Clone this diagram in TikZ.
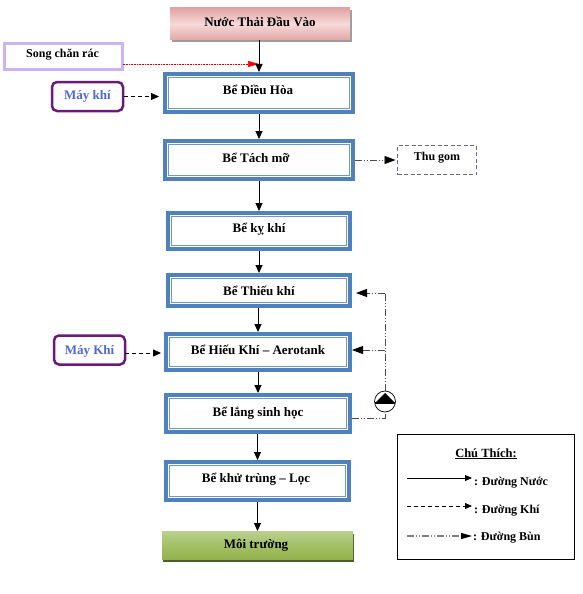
\documentclass[tikz,border=0pt]{standalone}
\usepackage{fontspec}
\setmainfont{Liberation Serif}
\usetikzlibrary{arrows.meta,shadows,calc}
\definecolor{tankblue}{HTML}{4F81BD}
\definecolor{tankpale}{HTML}{6F97C8}
\definecolor{lilac}{HTML}{CCB3F5}
\definecolor{plum}{HTML}{6A1B7A}
\definecolor{airblue}{HTML}{4F68D8}
\definecolor{dashgray}{HTML}{6F6485}
\definecolor{rosetop}{HTML}{E3A3A3}
\definecolor{rosemid}{HTML}{F6DADA}
\definecolor{rosebot}{HTML}{E2A6A6}
\definecolor{greentop}{HTML}{B9D190}
\definecolor{greenmid}{HTML}{A3C165}
\definecolor{greenbot}{HTML}{94B24F}
\definecolor{greendark}{HTML}{4C5C2C}
\newcommand{\tl}[2]{\smash{\raisebox{#1}{#2}}}
\newcommand{\smalltxt}{\fontsize{12}{13}\selectfont}
\tikzset{
  x=1pt,y=-1pt,
  every node/.style={font=\bfseries\fontsize{13}{14}\selectfont,inner sep=0pt,outer sep=0pt},
  tank/.style={fill=tankblue,
    path picture={
      \fill[white] ([shift={(4pt,4pt)}]path picture bounding box.south west) rectangle ([shift={(-4pt,-4pt)}]path picture bounding box.north east);
      \draw[tankpale,line width=1pt] ([shift={(5.6pt,5.6pt)}]path picture bounding box.south west) rectangle ([shift={(-5.6pt,-5.6pt)}]path picture bounding box.north east);
    }},
  air/.style={draw=plum,line width=2.5pt,rounded corners=5pt,fill=white,text=airblue},
  water/.style={line width=0.9pt,-{Triangle[length=8pt,width=7pt]}},
  gas/.style={line width=0.8pt,dash pattern=on 4pt off 3pt,-{Triangle[length=8pt,width=7pt]}},
  sludge/.style={line width=0.9pt,draw=black!70,dash pattern=on 7pt off 2pt on 1pt off 2pt on 1pt off 2pt},
  sludgetip/.style={sludge,-{Triangle[length=11pt,width=8pt,black]}},
}
\begin{document}
\begin{tikzpicture}
\useasboundingbox (0,0) rectangle (583,594);
\fill[white] (0,0) rectangle (583,594);
% nodes
\node[minimum width=180pt,minimum height=32pt,top color=rosetop,bottom color=rosebot,middle color=rosemid,drop shadow={shadow xshift=1.5pt,shadow yshift=-2.5pt,opacity=.7,fill=black!55}] (input) at (260,24) {\tl{-2pt}{Nước Thải Đầu Vào}};
\node[draw=lilac,line width=3pt,minimum width=118pt,minimum height=26pt,fill=white] (song) at (63.5,56.5) {\tl{-1.5pt}{\smalltxt\kern-2pt Song chăn rác}};
\node[air,minimum width=71pt,minimum height=29pt] (may1) at (87.5,96.5) {\tl{-3pt}{Máy khí}};
\node[tank,minimum width=192pt,minimum height=42pt] (dieuhoa) at (259,93) {\tl{-1pt}{\kern-2pt Bể Điều Hòa}};
\node[tank,minimum width=192pt,minimum height=42pt] (tachmo) at (259,160) {\tl{-2pt}{\kern-6pt Bể Tách mỡ}};
\node[draw=dashgray,line width=0.8pt,dash pattern=on 4pt off 2.5pt,minimum width=79pt,minimum height=29pt] (thugom) at (437,160) {\tl{0pt}{\smalltxt Thu gom}};
\node[tank,minimum width=186pt,minimum height=40pt] (kykhi) at (259,231) {\tl{-1pt}{Bể kỵ khí}};
\node[tank,minimum width=186pt,minimum height=35pt] (thieukhi) at (259,290.5) {\tl{-5pt}{Bể Thiếu khí}};
\node[tank,minimum width=188pt,minimum height=40pt] (hieukhi) at (258,352) {\tl{-2pt}{Bể Hiếu Khí – Aerotank}};
\node[air,minimum width=71pt,minimum height=29pt] (may2) at (89.5,350) {\tl{-4pt}{Máy Khí}};
\node[tank,minimum width=188pt,minimum height=41pt] (lang) at (258,413.5) {\tl{-3pt}{Bể lắng sinh học}};
\node[tank,minimum width=187pt,minimum height=42pt] (khutrung) at (257.5,481) {\tl{-1pt}{\kern-3pt Bể khử trùng – Lọc}};
\node[minimum width=191pt,minimum height=28pt,top color=greentop,bottom color=greenbot,middle color=greenmid,drop shadow={shadow xshift=1pt,shadow yshift=-2.5pt,opacity=1,fill=greendark}] (moi) at (257.5,545) {\tl{-3pt}{\kern-3pt Môi trường}};
% junctions
\coordinate (j1) at (259,64);
\coordinate (ret) at (385,418);
\coordinate (retb) at (385,350);
\coordinate (rett) at (385,293);
\node[circle,draw=black,line width=0.7pt,fill=white,minimum size=21pt] (pump) at (385,401.5) {};
% red
\draw[red!85!black,line width=0.6pt,densely dotted,-{Triangle[length=11pt,width=6pt,red]}] (song.east |- j1) -- (j1);
% main line
\draw[water] (input.south -| dieuhoa) -- (dieuhoa.north);
\draw[water] (dieuhoa.south) -- (tachmo.north);
\draw[water] (tachmo.south) -- (kykhi.north);
\draw[water] (kykhi.south) -- (kykhi.south |- thieukhi.north);
\draw[water] (thieukhi.south -| hieukhi) -- (hieukhi.north);
\draw[water] (hieukhi.south) -- (lang.north);
\draw[water] (lang.south -| khutrung) -- (khutrung.north);
\draw[water] (khutrung.south -| moi) -- (moi.north);
% air
\draw[gas] (may1.east) ++(1,0) -- ++(35,0);
\draw[gas,shorten >=3pt] (may2.east |- 0,353) -- (hieukhi.west |- 0,353);
% sludge
\draw[sludgetip,shorten >=2pt] (tachmo.east) -- (thugom.west);
\draw[sludge] (lang.east |- ret) -- (ret) -- (pump.south);
\draw[sludge] (pump.north) -- (rett);
\draw[sludgetip,shorten >=4pt] (rett) -- (thieukhi.east |- rett);
\draw[sludgetip] (retb) -- (hieukhi.east |- retb);
% pump detail
\fill[black] (375,403) -- (385,393) -- (395,403) -- cycle;
\draw[black,line width=1.2pt] (375,403) -- (395,403);
% legend
\node[draw=black,line width=0.9pt,minimum width=177pt,minimum height=125pt] (legend) at (485.5,496.5) {};
\node[anchor=base,font=\bfseries\fontsize{12.5}{14}\selectfont] (legtitle) at (486,457) {\underline{Chú Thích:}};
\coordinate (a1) at (407,478); \coordinate (b1) at (472,478);
\coordinate (a2) at (407,506); \coordinate (b2) at (472,506);
\coordinate (a3) at (407,536); \coordinate (b3) at (472,536);
\draw[line width=0.9pt,-{Triangle[length=7pt,width=6pt]}] (a1) -- (b1);
\draw[line width=0.8pt,dash pattern=on 4pt off 3pt,-{Triangle[length=7pt,width=6pt]}] (a2) -- (b2);
\draw[line width=1.1pt,draw=black!50,dash pattern=on 7pt off 2pt on 1pt off 2pt on 1pt off 2pt,-{Triangle[length=11pt,width=6pt,black]}] (a3) -- (b3);
\node[anchor=base west] (leg1) at (474,485) {\smalltxt : Đường Nước};
\node[anchor=base west] (leg2) at (474,513) {\smalltxt : Đường Khí};
\node[anchor=base west] (leg3) at (473,540) {\smalltxt : Đường Bùn};
\end{tikzpicture}
\end{document}
